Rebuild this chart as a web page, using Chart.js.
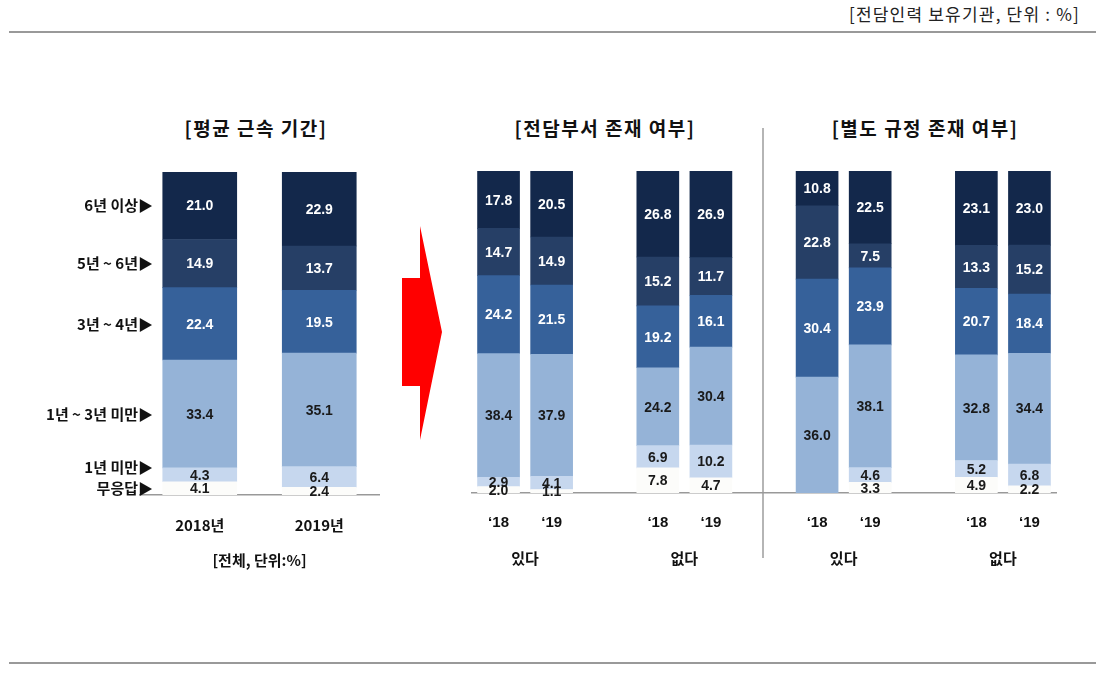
<!DOCTYPE html>
<html>
<head>
<meta charset="utf-8">
<script src="https://cdn.jsdelivr.net/npm/chart.js@4"></script>
<style>
  body { margin: 0; background: #fff; font-family: "Noto Sans CJK KR", sans-serif; }
  .page { position: relative; width: 1100px; height: 682px; overflow: hidden; }
  canvas { position: absolute; left: 0; top: 0; }
  .rule { position: absolute; left: 9px; width: 1087px; height: 2px; background: #999; }
  .title { position: absolute; top: 114px; font-weight: bold; font-size: 19px; letter-spacing: 1.5px; color: #111; transform: translateX(-50%); white-space: nowrap; }
  .note { position: absolute; right: 20px; top: 1px; font-size: 17px; color: #222; letter-spacing: 1.2px; }
  .sep { position: absolute; left: 762px; top: 128px; width: 2px; height: 430px; background: #b5b5b5; }
  .arrow { position: absolute; left: 402px; top: 226px; width: 40px; height: 214px; background: #ff0000;
           clip-path: polygon(0 52px, 18px 52px, 18px 0, 40px 106px, 18px 214px, 18px 160px, 0 160px); }
</style>
</head>
<body>
<div class="page">
  <div class="note">[전담인력 보유기관, 단위 : %]</div>
  <div class="rule" style="top:31px"></div>
  <div class="rule" style="top:662px"></div>
  <div class="title" style="left:256px">[평균 근속 기간]</div>
  <div class="title" style="left:605px">[전담부서 존재 여부]</div>
  <div class="title" style="left:925px">[별도 규정 존재 여부]</div>
  <div class="arrow"></div>
  <div class="sep"></div>
  <canvas id="tenure" width="1100" height="682"></canvas>
  <canvas id="split" width="1100" height="682"></canvas>
</div>
<script>
// bands, bottom to top
const bandNames = ['무응답', '1년 미만', '1년 ~ 3년 미만', '3년 ~ 4년', '5년 ~ 6년', '6년 이상'];
const bandColors = ['#fcfcfa', '#c6d7ee', '#95b3d7', '#36619a', '#263f66', '#13284b'];
const labelColors = ['#1a1a1a', '#1a1a1a', '#1a1a1a', '#ffffff', '#ffffff', '#ffffff'];

// left panel: all institutions
const tenureYears = ['2018년', '2019년'];
const tenure2018 = [4.1, 4.3, 33.4, 22.4, 14.9, 21.0];
const tenure2019 = [2.4, 6.4, 35.1, 19.5, 13.7, 22.9];

// right panels: 8 bars (부서 있다 18/19, 부서 없다 18/19, 규정 있다 18/19, 규정 없다 18/19)
const barYears = ['‘18', '‘19'];
const groupNames = ['있다', '없다', '있다', '없다'];
const noAnswer    = [2.0, 1.1, 7.8, 4.7, null, 3.3, 4.9, 2.2];
const underOne    = [2.9, 4.1, 6.9, 10.2, null, 4.6, 5.2, 6.8];
const oneToThree  = [38.4, 37.9, 24.2, 30.4, 36.0, 38.1, 32.8, 34.4];
const threeToFour = [24.2, 21.5, 19.2, 16.1, 30.4, 23.9, 20.7, 18.4];
const fiveToSix   = [14.7, 14.9, 15.2, 11.7, 22.8, 7.5, 13.3, 15.2];
const sixPlus     = [17.8, 20.5, 26.8, 26.9, 10.8, 22.5, 23.1, 23.0];

const numFont = 'bold 14px "Liberation Sans", Arial, sans-serif';
const tickNumFont = 'bold 15px "Liberation Sans", Arial, sans-serif';
const krFont = 'bold 15px "Noto Sans CJK KR", sans-serif';

// put an empty slot between each pair of bars
function withGaps(arr) {
  const out = [];
  arr.forEach((v, i) => {
    if (i > 0 && i % 2 === 0) out.push(null);
    out.push(v);
  });
  return out;
}

const valueLabels = {
  id: 'valueLabels',
  afterDatasetsDraw(chart) {
    const ctx = chart.ctx;
    ctx.save();
    ctx.font = numFont;
    ctx.textAlign = 'center';
    ctx.textBaseline = 'middle';
    chart.data.datasets.forEach((ds, di) => {
      chart.getDatasetMeta(di).data.forEach((bar, i) => {
        const v = ds.data[i];
        if (v == null || v === 0) return;
        ctx.fillStyle = labelColors[di];
        ctx.fillText(v.toFixed(1), bar.x, (bar.y + bar.base) / 2 + 1);
      });
    });
    ctx.restore();
  }
};

// x labels under the baseline, drawn at the category scale's positions
const bottomLabels = {
  id: 'bottomLabels',
  afterDraw(chart, args, opts) {
    const ctx = chart.ctx, x = chart.scales.x, base = chart.chartArea.bottom;
    ctx.save();
    ctx.fillStyle = '#111';
    ctx.textAlign = 'center';
    ctx.textBaseline = 'middle';
    ctx.font = opts.tickFont;
    chart.data.labels.forEach((lab, i) => {
      if (lab) ctx.fillText(lab, x.getPixelForValue(i), base + 30);
    });
    ctx.font = krFont;
    (opts.groups || []).forEach(g => {
      ctx.fillText(g.text, x.getPixelForValue(g.at), base + 65);
    });
    ctx.restore();
  }
};

// band names beside the 2018 bar of the left panel
const bandNameLabels = {
  id: 'bandNameLabels',
  afterDraw(chart) {
    if (chart.canvas.id !== 'tenure') return;
    const ctx = chart.ctx, y = chart.scales.y;
    const left = chart.chartArea.left + 13;
    let acc = 0;
    ctx.save();
    ctx.font = krFont;
    ctx.fillStyle = '#111';
    ctx.textAlign = 'right';
    ctx.textBaseline = 'middle';
    tenure2018.forEach((v, i) => {
      let py = y.getPixelForValue(acc + v / 2);
      if (i === 1) py -= 8;
      ctx.fillText(bandNames[i] + '▶', left, py);
      acc += v;
    });
    ctx.restore();
  }
};

function baseOptions(padding, thickness, tickFont, groups) {
  return {
    responsive: false,
    animation: false,
    layout: { padding },
    plugins: {
      legend: { display: false },
      tooltip: { enabled: false },
      bottomLabels: { tickFont, groups }
    },
    datasets: { bar: { barThickness: thickness } },
    scales: {
      x: {
        stacked: true,
        grid: { display: false },
        ticks: { display: false },
        border: { display: true, color: '#999', width: 1.5 }
      },
      y: {
        stacked: true,
        display: false,
        min: 0,
        max: 100
      }
    }
  };
}

new Chart(document.getElementById('tenure'), {
  type: 'bar',
  data: {
    labels: tenureYears,
    datasets: bandNames.map((name, i) => ({
      label: name,
      data: [tenure2018[i], tenure2019[i]],
      backgroundColor: bandColors[i]
    }))
  },
  options: baseOptions({ left: 140, right: 721, top: 172, bottom: 179 }, 74, krFont,
    [{ text: '[전체, 단위:%]', at: 0.5 }]),
  plugins: [valueLabels, bottomLabels, bandNameLabels]
});

const splitBands = [noAnswer, underOne, oneToThree, threeToFour, fiveToSix, sixPlus];
new Chart(document.getElementById('split'), {
  type: 'bar',
  data: {
    labels: withGaps([].concat(barYears, barYears, barYears, barYears)).map(v => v || ''),
    datasets: bandNames.map((name, i) => ({
      label: name,
      data: withGaps(splitBands[i]),
      backgroundColor: bandColors[i]
    }))
  },
  options: baseOptions({ left: 472, right: 44, top: 171, bottom: 181 }, 42, tickNumFont,
    groupNames.map((t, k) => ({ text: t, at: k * 3 + 0.5 }))),
  plugins: [valueLabels, bottomLabels]
});
</script>
</body>
</html>
